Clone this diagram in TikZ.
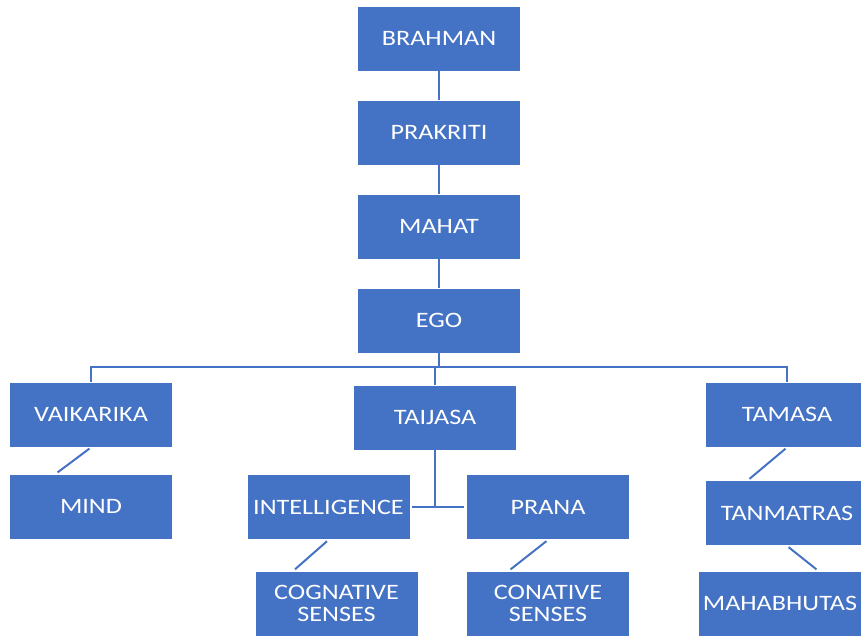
\documentclass[tikz,border=0pt]{standalone}
\usepackage{fontspec}
\usepackage{tikz}
\usetikzlibrary{shapes,arrows}
\usepackage{xcolor}
\newfontfamily\boxfont[FakeStretch=1.19]{Carlito}
\definecolor{boxblue}{HTML}{4472C4}
\tikzset{
  box/.style={rectangle, fill=boxblue, draw=white, line width=0.8pt, text=white,
    minimum width=163pt, minimum height=65pt, inner sep=0pt, align=center,
    font=\boxfont\fontsize{22}{22.5}\selectfont},
  link/.style={draw=boxblue, line width=2pt},
}

\begin{document}
\begin{tikzpicture}[x=1pt,y=-1pt]
     \useasboundingbox (0,0) rectangle (861,635);
     % chain from the top
     \node [box] (brahman) at (439,38.5) {BRAHMAN};
     \node [box] (prakriti) at (439,132.5) {PRAKRITI};
     \node [box] (mahat) at (439,226.5) {MAHAT};
     \node [box] (ego) at (439,320.5) {EGO};
     % three gunas
     \node [box] (vaikarika) at (91,414.5) {VAIKARIKA};
     \node [box] (taijasa) at (435,417.5) {TAIJASA};
     \node [box] (tamasa) at (787,414.5) {TAMASA};
     % lower rows
     \node [box] (mind) at (91,506.5) {MIND};
     \node [box] (intelligence) at (328.5,507) {INTELLIGENCE};
     \node [box] (prana) at (548,507) {PRANA};
     \node [box] (tanmatras) at (787,513) {TANMATRAS};
     \node [box] (cognative) at (336.5,603.5) {COGNATIVE\\SENSES};
     \node [box] (conative) at (548,603.5) {CONATIVE\\SENSES};
     \node [box] (mahabhutas) at (780,603.5) {MAHABHUTAS};
     \coordinate (bus) at (439,367);
     % connectors
     \draw [link] (brahman) -- (prakriti);
     \draw [link] (prakriti) -- (mahat);
     \draw [link] (mahat) -- (ego);
     \draw [link] (ego) -- (bus);
     \draw [link] (vaikarika.north) |- (bus) -| (tamasa.north);
     \draw [link] (taijasa.north) -- (taijasa.north |- bus);
     \draw [link] (taijasa.south) -- (taijasa.south |- intelligence.east);
     \draw [link, shorten <=2pt, shorten >=2pt] (intelligence.east) -- (prana.west);
     \draw [link, shorten <=2pt, shorten >=2pt] (vaikarika.south) -- ([xshift=-35pt]mind.north);
     \draw [link, shorten <=2pt, shorten >=2pt] (intelligence.south) -- ([xshift=-43pt]cognative.north);
     \draw [link, shorten <=2pt, shorten >=2pt] (prana.south) -- ([xshift=-39pt]conative.north);
     \draw [link, shorten <=2pt, shorten >=2pt] (tamasa.south) -- ([xshift=-39pt]tanmatras.north);
     \draw [link, shorten <=2pt, shorten >=2pt] (tanmatras.south) -- ([xshift=38pt]mahabhutas.north);
 \end{tikzpicture}
\end{document}
